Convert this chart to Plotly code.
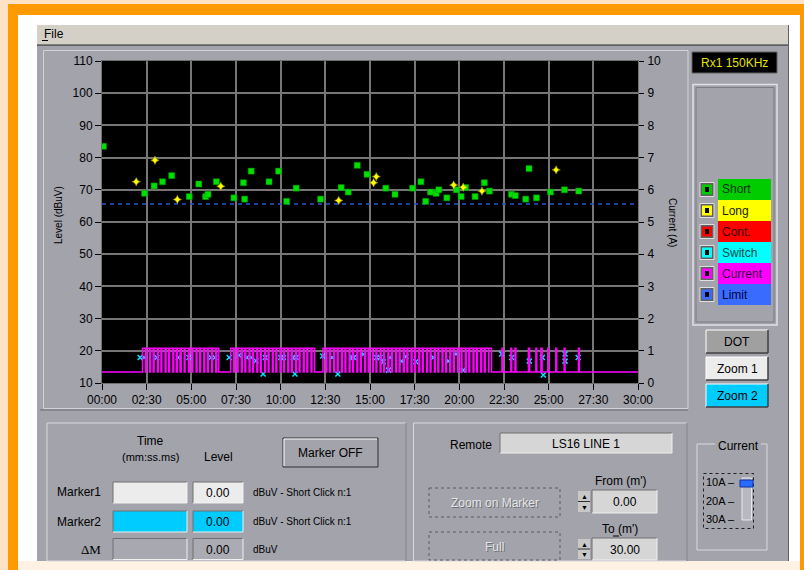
import plotly.graph_objects as go

# ---------------- data ----------------
time_tick_s = [0, 150, 300, 450, 600, 750, 900, 1050, 1200, 1350, 1500, 1650, 1800]
time_tick_labels = ["00:00", "02:30", "05:00", "07:30", "10:00", "12:30", "15:00",
                    "17:30", "20:00", "22:30", "25:00", "27:30", "30:00"]
level_ticks = [10, 20, 30, 40, 50, 60, 70, 80, 90, 100, 110]
current_ticks = [0, 1, 2, 3, 4, 5, 6, 7, 8, 9, 10]

short_t = [5, 143, 175, 203, 234, 293, 325, 348, 356, 384, 443, 475, 479, 501, 561, 593, 620, 652,
           734, 803, 827, 857, 890, 953, 984, 1043, 1071, 1087, 1103, 1122, 1131, 1158, 1190, 1206,
           1221, 1253, 1284, 1301, 1375, 1388, 1423, 1434, 1459, 1506, 1553, 1601]
short_level = [83.5, 68.9, 71.2, 72.5, 74.4, 67.9, 71.8, 67.9, 68.6, 72.5, 67.5, 72.2, 67.1, 75.8, 72.5, 75.8, 66.4, 70.5,
               67.1, 70.7, 69.3, 77.6, 74.8, 70.5, 68.6, 70.5, 72.5, 66.4, 69.3, 68.9, 70.0, 67.5, 70.0, 67.9,
               70.7, 67.9, 72.2, 69.6, 68.6, 68.2, 67.1, 76.6, 67.5, 69.3, 70.0, 69.6]

long_t = [115, 178, 253, 399, 795, 912, 921, 1181, 1213, 1276, 1525]
long_level = [72.5, 79.2, 67.0, 71.1, 66.7, 72.2, 74.1, 71.5, 70.8, 69.6, 76.2]

switch_t = [128, 141, 184, 256, 292, 366, 379, 427, 460, 486, 501, 517, 548, 600, 610, 642, 652, 741, 773,
            541, 648, 792,
            839, 846, 878, 922, 934, 945, 962, 967, 1006, 1021, 1054, 1113, 1163, 1189, 1213,
            1342, 1376, 1435, 1479, 1482, 1555, 1555, 1599]
switch_level = [17.9, 17.9, 17.9, 17.9, 17.9, 17.9, 17.9, 17.9, 18.6, 17.9, 17.9, 16.9, 17.9, 17.9, 17.9, 17.9, 17.9, 18.4, 17.9,
                12.8, 12.8, 12.8,
                17.9, 17.9, 18.9, 17.9, 17.9, 16.6, 14.0, 17.9, 16.8, 18.2, 16.6, 17.9, 16.8, 19.0, 14.0,
                19.0, 17.9, 16.8, 17.9, 12.5, 19.0, 16.8, 17.9]

limit_level = 65.6

pulse_on = [136, 149, 163, 175, 189, 201, 215, 227, 241, 253, 266, 279, 293, 305, 319, 331, 345, 357, 371, 385,
            432, 445, 457, 471, 483, 497, 509, 523, 535, 549, 561, 575, 587, 601, 613, 627, 639, 653, 665, 679, 691, 705,
            742, 755, 767, 781, 793, 807, 819, 833, 845, 859, 871, 885, 897, 911, 923, 937, 949, 963, 975, 989,
            1001, 1015, 1027, 1041, 1053, 1067, 1079, 1093, 1105, 1119, 1131, 1145, 1157, 1171, 1183, 1197, 1209,
            1223, 1235, 1249, 1261, 1275, 1287, 1299,
            1343, 1373, 1387, 1432, 1457, 1474, 1497, 1524, 1552, 1600]
pulse_off = [146, 160, 172, 186, 198, 212, 224, 238, 250, 262, 276, 290, 302, 316, 328, 342, 354, 368, 382, 392,
             442, 454, 468, 480, 494, 506, 520, 532, 546, 558, 572, 584, 598, 610, 624, 636, 650, 662, 676, 688, 702, 714,
             752, 764, 778, 790, 804, 816, 830, 842, 856, 868, 882, 894, 908, 920, 934, 946, 960, 972, 986, 998,
             1012, 1024, 1038, 1050, 1064, 1076, 1090, 1102, 1116, 1128, 1142, 1154, 1168, 1180, 1194, 1206, 1220,
             1232, 1246, 1258, 1272, 1284, 1298, 1308,
             1346, 1376, 1390, 1436, 1460, 1478, 1500, 1527, 1555, 1603]
current_low = 0.34
current_high = 1.08

# ---------------- geometry helpers (pixel -> paper) ----------------
W, H = 804, 570
PL, PR, PT, PB = 102, 638, 61, 383


def X(px):
    return (px - PL) / (PR - PL)


def Y(py):
    return (PB - py) / (PB - PT)


FONT = "Arial, Liberation Sans, sans-serif"
shapes = []
anns = []


def R(x0, y0, x1, y1, fill=None, line=None, lw=1, dash=None):
    shapes.append(dict(type="rect", xref="paper", yref="paper", layer="below",
                       x0=X(x0), x1=X(x1), y0=Y(y0), y1=Y(y1),
                       fillcolor=fill if fill else "rgba(0,0,0,0)",
                       line=dict(color=line if line else "rgba(0,0,0,0)", width=lw if line else 0,
                                 dash=dash if dash else "solid")))


def L(x0, y0, x1, y1, color, lw=1, dash=None):
    shapes.append(dict(type="line", xref="paper", yref="paper", layer="below",
                       x0=X(x0), x1=X(x1), y0=Y(y0), y1=Y(y1),
                       line=dict(color=color, width=lw, dash=dash if dash else "solid")))


def T(x, y, s, size=12, color="black", xa="center", family=FONT, angle=0):
    anns.append(dict(x=X(x), y=Y(y), xref="paper", yref="paper", text=s, showarrow=False,
                     xanchor=xa, yanchor="middle", textangle=angle,
                     font=dict(size=size, color=color, family=family)))


def raised(x0, y0, x1, y1, fill):
    R(x0, y0, x1, y1, fill=fill)
    L(x0, y0, x1, y0, "#FFFFFF")
    L(x0, y0, x0, y1, "#FFFFFF")
    L(x0, y1, x1, y1, "#404040", 1.5)
    L(x1, y0, x1, y1, "#404040", 1.5)


def sunken(x0, y0, x1, y1, fill):
    R(x0, y0, x1, y1, fill=fill)
    L(x0, y0, x1, y0, "#707070")
    L(x0, y0, x0, y1, "#707070")
    L(x0, y1, x1, y1, "#F0F0F0")
    L(x1, y0, x1, y1, "#F0F0F0")


PANEL = "#A3A3AB"

# ---------------- frame / window ----------------
R(0, 0, W, H, fill="#FDE2C4")
R(8, 4, W, H, fill="#FF9900")
R(18, 15, 800, 561, fill="#FFFFFF")
R(18, 561, 800, H, fill="#FFF2E4")
R(37, 25, 789, 561, fill=PANEL)
R(37, 25, 789, 44, fill="#D4D0C8")
L(37, 44.5, 789, 44.5, "#808080")
L(37, 45.5, 789, 45.5, "#606060")
L(788.5, 25, 788.5, 561, "#606060")
T(42, 33.5, "File", 12, "black", "left")
L(42, 40.5, 48, 40.5, "black")

# chart panel
R(43.5, 50.5, 688, 408.5, line="#D2D2DA", lw=1)
L(40, 410, 688, 410, "#6A6A72")
R(PL, PT, PR, PB, fill="#000000")

# ---------------- right panel ----------------
R(692, 52, 777, 73, fill="#000000", line="#606060")
T(734.5, 63, "Rx1 150KHz", 12, "#E4E400")
R(693, 84.5, 777, 325, line="#E0E0E8", lw=1.5)
R(696, 87.5, 774, 322, line="#7C7C84", lw=1)
legend_names = ["Short", "Long", "Cont.", "Switch", "Current", "Limit"]
legend_fill = ["#00CC00", "#FFFF00", "#FF0000", "#00FFFF", "#FF00FF", "#3A6BFF"]
legend_text = ["#003300", "#202000", "#400000", "#004848", "#400040", "#000040"]
row0 = 179
for i, (nm, fc, tc) in enumerate(zip(legend_names, legend_fill, legend_text)):
    y0 = row0 + i * 21
    cy = y0 + 10.5
    R(718, y0, 771, y0 + 21, fill=fc)
    T(720, cy, nm, 12, tc, "left")
    R(700, cy - 7, 714, cy + 7, fill="#606060", line="#E0E0E0", lw=1)
    R(702, cy - 5, 712, cy + 5, fill=fc)
    R(705, cy - 2.5, 709, cy + 2.5, fill="#000000")

raised(706, 330, 768, 353, "#A0A0A0")
T(737, 341.5, "DOT", 12)
raised(706, 357, 768, 380, "#ECECEC")
T(737, 368.5, "Zoom 1", 12)
raised(706, 384, 768, 407, "#00CCFF")
T(737, 395.5, "Zoom 2", 12)

# ---------------- bottom-left panel ----------------
R(47, 423, 406, 561, line="#D8D8E0", lw=1)
L(406, 423, 406, 561, "#6A6A72")
T(150, 441, "Time", 12)
T(150, 457, "(mm:ss.ms)", 11)
T(218, 457, "Level", 12)
R(283, 438, 378, 467, fill=PANEL, line="#303030", lw=1)
L(284, 439, 377, 439, "#FFFFFF")
L(284, 439, 284, 466, "#FFFFFF")
T(330.5, 452.5, "Marker OFF", 12)

rows = [(492.5, "Marker1", "#ECECEC", "#ECECEC"),
        (521.5, "Marker2", "#00CCFF", "#00CCFF"),
        (549, None, "#A8A8B0", "#ABABB3")]
for cy, lab, f1, f2 in rows:
    sunken(113, cy - 10.5, 187, cy + 10.5, f1)
    sunken(193, cy - 10.5, 243, cy + 10.5, f2)
    T(218, cy + 0.5, "0.00", 12)
    if lab:
        T(103, cy, lab, 12, "black", "right")
T(103, 549, "ΔM", 13, "black", "right", family="Liberation Serif, Times New Roman, serif")
T(251, 492.5, "dBuV - Short Click n:1", 10, "black", "left")
T(251, 521.5, "dBuV - Short Click n:1", 10, "black", "left")
T(251, 549, "dBuV", 10, "black", "left")

# ---------------- bottom-middle panel ----------------
R(413.5, 423, 687, 561, line="#D8D8E0", lw=1)
L(687, 423, 687, 561, "#6A6A72")
T(471, 445, "Remote", 12)
sunken(500, 433, 672, 453, "#D6D6D6")
T(586, 443.5, "LS16 LINE 1", 12)
T(621, 481, "From (m')", 12)
T(620, 528.5, "To (m')", 12)
L(613, 536, 619, 536, "black")
for (by0, by1, lab) in [(488, 517, "Zoom on Marker"), (532, 560, "Full")]:
    R(429, by0, 560, by1, fill=PANEL, line="#5A5A62", lw=1, dash="dot")
    T(495.5, (by0 + by1) / 2 + 1.5, lab, 12, "#6E6E76")
    T(494.5, (by0 + by1) / 2 + 0.5, lab, 12, "#E4E4E4")
for (by0, by1, val) in [(490, 513, "0.00"), (538, 560, "30.00")]:
    sunken(592, by0, 657, by1, "#D6D6D6")
    T(624.5, (by0 + by1) / 2 + 0.5, val, 12)
    R(578, by0 + 1, 590, by1 - 1, fill="#C8C8C8")
    L(578, (by0 + by1) / 2, 590, (by0 + by1) / 2, "#303030")
    T(584, by0 + 6, "▲", 7, "black")
    T(584, by1 - 6, "▼", 7, "black")

# current group box
R(697, 444, 767, 550, line="#D8D8E0", lw=1)
R(715, 438, 761, 451, fill=PANEL)
T(738, 445.5, "Current", 12)
R(703.5, 473.5, 753.5, 528.5, line="#202020", lw=1, dash="dot")
R(742, 478, 751.5, 520, fill="#B8B8C0", line="#E8E8E8", lw=1)
R(740, 480, 753, 487, fill="#2A6BFF", line="#1030A0", lw=1)
T(704, 482, "10A –", 11, "black", "left")
T(704, 500.5, "20A –", 11, "black", "left")
T(704, 519, "30A –", 11, "black", "left")

# axis titles
T(58, 215, "Level (dBuV)", 10, "black", angle=-90)
T(673, 222, "Current (A)", 10, "black", angle=90)

# ---------------- traces ----------------
cur_t = [0]
cur_a = [current_low]
for on, off in zip(pulse_on, pulse_off):
    cur_t += [on, off]
    cur_a += [current_high, current_low]
cur_t.append(1800)
cur_a.append(current_low)

fig = go.Figure()
fig.add_trace(go.Scatter(x=cur_t, y=cur_a, yaxis="y2", mode="lines", line_shape="hv",
                         line=dict(color="#FF00FF", width=1.5), name="Current", hoverinfo="skip"))
fig.add_trace(go.Scatter(x=[0, 1800], y=[limit_level, limit_level], mode="lines",
                         line=dict(color="#2B4FD8", width=1.6, dash="4px,4px"), name="Limit"))
fig.add_trace(go.Scatter(x=short_t, y=short_level, mode="markers", name="Short",
                         marker=dict(symbol="square", size=6, color="#00E000",
                                     line=dict(color="#009000", width=0.5))))
fig.add_trace(go.Scatter(x=long_t, y=long_level, mode="markers", name="Long",
                         marker=dict(symbol="star-diamond", size=6, color="#FFFF00",
                                     line=dict(color="#A0A000", width=0.5))))
fig.add_trace(go.Scatter(x=switch_t, y=switch_level, mode="markers", name="Switch",
                         marker=dict(symbol="x-thin", size=5, color="#00E8FF",
                                     line=dict(color="#00E8FF", width=1.5))))

fig.update_layout(
    width=W, height=H, autosize=False,
    margin=dict(l=PL, r=W - PR, t=PT, b=H - PB, pad=0),
    paper_bgcolor="#FDE2C4", plot_bgcolor="rgba(0,0,0,0)",
    showlegend=False,
    font=dict(family=FONT, size=12, color="black"),
    shapes=shapes, annotations=anns,
    xaxis=dict(range=[0, 1800], tickvals=time_tick_s, ticktext=time_tick_labels,
               showgrid=True, gridcolor="#767676", gridwidth=1.5,
               ticks="outside", ticklen=6, tickcolor="black", tickwidth=1,
               showline=True, linecolor="#707070", mirror=True, zeroline=False,
               tickfont=dict(size=12, color="black")),
    yaxis=dict(range=[10, 110], tickvals=level_ticks,
               showgrid=True, gridcolor="#767676", gridwidth=1.5,
               ticks="outside", ticklen=6, tickcolor="black", tickwidth=1,
               showline=True, linecolor="#707070", mirror=True, zeroline=False,
               tickfont=dict(size=12, color="black")),
    yaxis2=dict(range=[0, 10], tickvals=current_ticks, overlaying="y", side="right",
                showgrid=False, zeroline=False, ticks="outside", ticklen=5,
                tickcolor="black", tickwidth=1, tickfont=dict(size=12, color="black"),
                ticklabelstandoff=1),
)

fig.write_html("out.html", config={"displayModeBar": False},
               post_script="document.body.style.margin='0px';document.body.style.overflow='hidden';")
